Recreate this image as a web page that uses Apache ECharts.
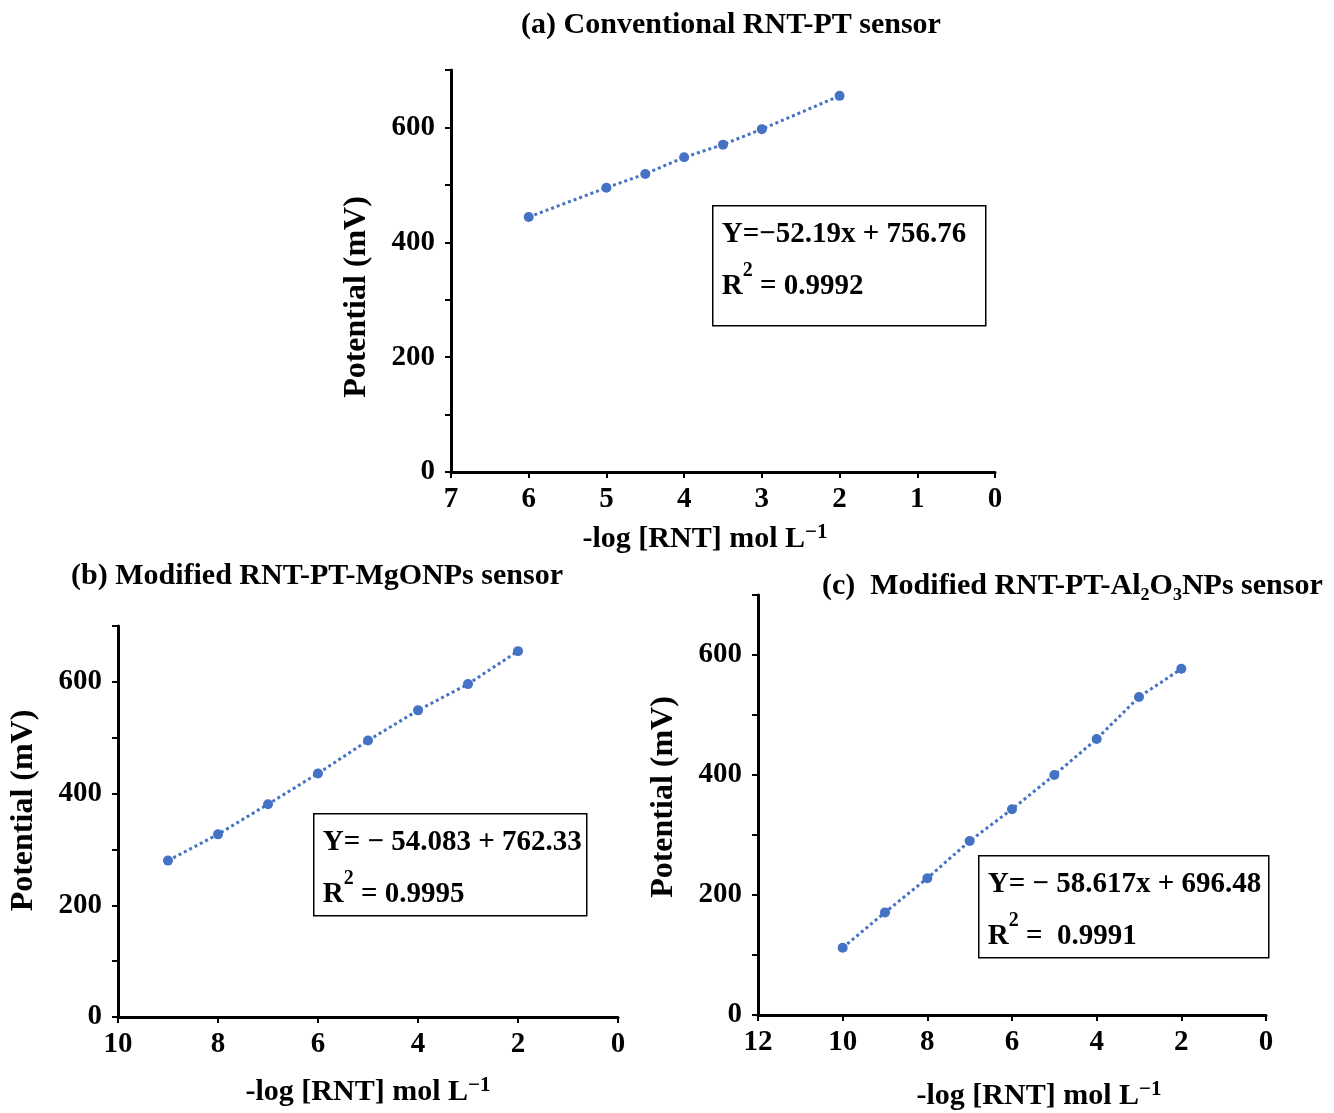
<!DOCTYPE html>
<html>
<head>
<meta charset="utf-8">
<script src="https://cdn.jsdelivr.net/npm/echarts@6/dist/echarts.min.js"></script>
<style>
  html, body { margin: 0; padding: 0; background: #fff; }
  #chart-container { width: 1334px; height: 1113px; }
</style>
</head>
<body>
<div id="chart-container"></div>
<script>
// -log[RNT] values and measured potentials (mV)
var xA = [6, 5, 4.5, 4, 3.5, 3, 2];
var yA = [444, 495, 519, 548, 570, 597, 655];

var xB = [9, 8, 7, 6, 5, 4, 3, 2];
var yB = [280, 327, 381, 436, 495, 549, 596, 655];

var xC = [10, 9, 8, 7, 6, 5, 4, 3, 2];
var yC = [112, 171, 228, 290, 343, 400, 460, 530, 577];

var titles = [
  '(a) Conventional RNT-PT sensor',
  '(b) Modified RNT-PT-MgONPs sensor',
  '(c)  Modified RNT-PT-Al\u2082O\u2083NPs sensor'
];
var equations = [
  ['Y=\u221252.19x + 756.76', '0.9992'],
  ['Y= \u2212 54.083 + 762.33', '0.9995'],
  ['Y= \u2212 58.617x + 696.48', ' 0.9991']
];

var FONT = '"Liberation Serif", "Times New Roman", serif';
var BLUE = '#4472C4';

var dom = document.getElementById('chart-container');
var myChart = echarts.init(dom, null, { renderer: 'canvas' });

function pairs(xs, ys) {
  return xs.map(function (x, i) { return [x, ys[i]]; });
}

// grid boxes in px
var grids = [
  { left: 451, top: 70, width: 544, height: 402 },
  { left: 118, top: 626, width: 500, height: 391 },
  { left: 758, top: 595, width: 508, height: 420 }
];
var xMax = [7, 10, 12];
var xStep = [1, 2, 2];
var xNameGap = [50, 58, 64];
var xNamePad = [[0, 36, 0, 0], [0, 0, 0, 0], [0, 0, 0, 54]];
var yNamePad = [[0, 52, 0, 0], [0, 0, 0, 22], [0, 0, 0, 16]];

var xNameRich = {
  s: { fontSize: 21, fontWeight: 'bold', fontFamily: FONT, color: '#000', verticalAlign: 'top', padding: [0, 0, 14, 0] }
};

var xAxes = grids.map(function (g, i) {
  return {
    type: 'value',
    gridIndex: i,
    inverse: true,
    min: 0,
    max: xMax[i],
    interval: xStep[i],
    name: '-log [RNT] mol L{s|\u22121}',
    nameLocation: 'middle',
    nameGap: xNameGap[i],
    nameTextStyle: { fontFamily: FONT, fontWeight: 'bold', fontSize: 30, color: '#000', rich: xNameRich, padding: xNamePad[i] },
    axisLine: { onZero: false, lineStyle: { color: '#000', width: 3 } },
    axisTick: { show: true, length: 6, lineStyle: { color: '#000', width: 2 } },
    axisLabel: { fontFamily: FONT, fontWeight: 'bold', fontSize: 29, color: '#000', margin: 13 },
    splitLine: { show: false }
  };
});

var yAxes = grids.map(function (g, i) {
  return {
    type: 'value',
    gridIndex: i,
    position: 'left',
    min: 0,
    max: 700,
    interval: 100,
    name: 'Potential (mV)',
    nameLocation: 'middle',
    nameGap: 78,
    nameTextStyle: { fontFamily: FONT, fontWeight: 'bold', fontSize: 32, color: '#000', padding: yNamePad[i] },
    axisLine: { show: true, onZero: false, lineStyle: { color: '#000', width: 3 } },
    axisTick: { show: true, length: 6, lineStyle: { color: '#000', width: 2 } },
    axisLabel: {
      fontFamily: FONT, fontWeight: 'bold', fontSize: 29, color: '#000', margin: 16,
      formatter: function (v) { return (v % 200 === 0 && v < 700) ? String(v) : ''; }
    },
    splitLine: { show: false }
  };
});

var seriesData = [pairs(xA, yA), pairs(xB, yB), pairs(xC, yC)];
var series = seriesData.map(function (d, i) {
  return {
    type: 'line',
    xAxisIndex: i,
    yAxisIndex: i,
    data: d,
    symbol: 'circle',
    symbolSize: 10,
    itemStyle: { color: BLUE },
    lineStyle: { color: BLUE, width: 3, type: 'dotted' },
    animation: false
  };
});

var titleStyle = { fontFamily: FONT, fontWeight: 'bold', fontSize: 30, color: '#000' };
var title = [
  { text: titles[0], left: 726, top: 5, textAlign: 'center', textStyle: titleStyle },
  { text: titles[1], left: 66, top: 556, textStyle: titleStyle },
  { text: titles[2], left: 817, top: 566, textStyle: titleStyle }
];

// equation boxes
var boxes = [
  { x: 712, y: 205, w: 273, h: 120 },
  { x: 313, y: 813, w: 273, h: 102 },
  { x: 978, y: 855, w: 290, h: 102 }
];
var eqRich = {
  t: { fontFamily: FONT, fontWeight: 'bold', fontSize: 29, color: '#000', lineHeight: 52 },
  s: { fontFamily: FONT, fontWeight: 'bold', fontSize: 20, color: '#000', verticalAlign: 'top', lineHeight: 36 }
};
var graphic = boxes.map(function (b, i) {
  return {
    type: 'group',
    left: b.x,
    top: b.y,
    children: [
      {
        type: 'rect',
        shape: { x: 0, y: 0, width: b.w, height: b.h },
        style: { fill: '#fff', stroke: '#000', lineWidth: 1.5 }
      },
      {
        type: 'text',
        x: 9,
        y: 3,
        style: {
          text: '{t|' + equations[i][0] + '}\n{t|R}{s|2}{t| = ' + equations[i][1] + '}',
          rich: eqRich
        }
      }
    ]
  };
});

var option = {
  backgroundColor: '#fff',
  animation: false,
  title: title,
  grid: grids,
  xAxis: xAxes,
  yAxis: yAxes,
  series: series,
  graphic: graphic
};

myChart.setOption(option);
window.addEventListener('resize', myChart.resize);
</script>
</body>
</html>
